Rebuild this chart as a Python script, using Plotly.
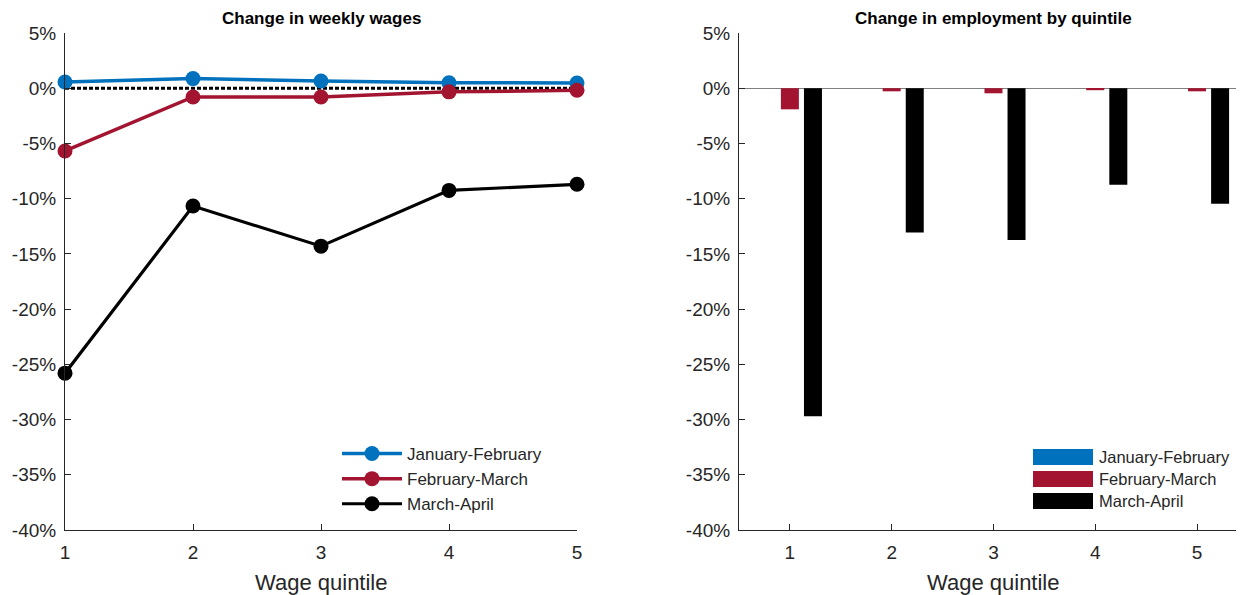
import plotly.graph_objects as go

quintile = [1, 2, 3, 4, 5]
series_names = ["January-February", "February-March", "March-April"]

wage_jan_feb = [0.57, 0.87, 0.66, 0.5, 0.47]
wage_feb_mar = [-5.68, -0.79, -0.79, -0.33, -0.19]
wage_mar_apr = [-25.8, -10.67, -14.3, -9.25, -8.7]
wage_zero = [0, 0, 0, 0, 0]

emp_jan_feb = [0, 0, 0, 0, 0]
emp_feb_mar = [-1.91, -0.28, -0.46, -0.18, -0.28]
emp_mar_apr = [-29.7, -13.07, -13.75, -8.73, -10.45]

y_ticks = [5, 0, -5, -10, -15, -20, -25, -30, -35, -40]
y_labels = ["5%", "0%", "-5%", "-10%", "-15%", "-20%", "-25%", "-30%", "-35%", "-40%"]

BLUE = "#0072BD"
RED = "#A2142F"
BLACK = "#000000"
COLORS = [BLUE, RED, BLACK]
AX = "#262626"
FONT = "Liberation Sans"
W, H = 1244, 595
OFF = 8  # page body margin


def px_x(p):
    return (p - OFF) / W


def px_y(p):
    return (H - (p - OFF)) / H


fig = go.Figure()

# left panel: wages
fig.add_trace(go.Scatter(x=quintile, y=wage_zero, mode="lines", showlegend=False,
                         line=dict(color=BLACK, width=3, dash="4px,2px"),
                         xaxis="x", yaxis="y", hoverinfo="skip"))
for name, vals, col in zip(series_names, [wage_jan_feb, wage_feb_mar, wage_mar_apr], COLORS):
    fig.add_trace(go.Scatter(x=quintile, y=vals, name=name, mode="lines+markers",
                             line=dict(color=col, width=3.5 if col != BLACK else 3.2),
                             marker=dict(color=col, size=15),
                             cliponaxis=False, xaxis="x", yaxis="y", legend="legend"))

# right panel: employment
for name, vals, col in zip(series_names, [emp_jan_feb, emp_feb_mar, emp_mar_apr], COLORS):
    fig.add_trace(go.Bar(x=quintile, y=vals, name=name, marker=dict(color=col, line_width=0),
                         xaxis="x2", yaxis="y2", showlegend=False))

axis_common = dict(showline=True, linecolor=AX, linewidth=1, ticks="inside", ticklen=6,
                   tickcolor=AX, showgrid=False, mirror=False, automargin=False,
                   tickfont=dict(family=FONT, size=19, color=AX))
x_extra = dict(ticklabelstandoff=5)
y_extra = dict(ticklabelstandoff=4)
y_dom = [px_y(530), px_y(33)]

fig.update_layout(
    width=W, height=H,
    margin=dict(l=0, r=0, t=0, b=0, pad=0),
    plot_bgcolor="white", paper_bgcolor="white",
    font=dict(family=FONT, color=AX),
    barmode="group", bargap=0.32, bargroupgap=0.22,
    xaxis=dict(domain=[px_x(65), px_x(577)], range=[1, 5], tickvals=quintile,
               anchor="y", zeroline=False, **axis_common, **x_extra),
    yaxis=dict(domain=y_dom, range=[-40, 5], tickvals=y_ticks, ticktext=y_labels,
               anchor="x", zeroline=False, **axis_common, **y_extra),
    xaxis2=dict(domain=[px_x(739), 1.0], range=[0.5, 5.54], tickvals=quintile,
                anchor="y2", zeroline=False, **axis_common, **x_extra),
    yaxis2=dict(domain=y_dom, range=[-40, 5], tickvals=y_ticks, ticktext=y_labels,
                anchor="x2", zeroline=True, zerolinecolor="#808080", zerolinewidth=1,
                **axis_common, **y_extra),
    legend=dict(x=px_x(337), y=px_y(436), xanchor="left", yanchor="top",
                bgcolor="rgba(0,0,0,0)", itemwidth=60, tracegroupgap=0,
                font=dict(family=FONT, size=17, color=AX)),
    showlegend=True,
)

titles = [("Change in weekly wages", 321), ("Change in employment by quintile", 993)]
for text, xc in titles:
    fig.add_annotation(text="<b>%s</b>" % text, x=px_x(xc), y=px_y(18),
                       xref="paper", yref="paper", showarrow=False,
                       xanchor="center", yanchor="middle",
                       font=dict(family=FONT, size=17, color=BLACK))

for xc in [321, 993]:
    fig.add_annotation(text="Wage quintile", x=px_x(xc), y=px_y(582),
                       xref="paper", yref="paper", showarrow=False,
                       xanchor="center", yanchor="middle",
                       font=dict(family=FONT, size=22, color=AX))

# legend for the bar panel (wide colour keys)
key_y = [457, 479, 501]
for name, col, yy in zip(series_names, COLORS, key_y):
    fig.add_shape(type="rect", xref="paper", yref="paper",
                  x0=px_x(1033), x1=px_x(1093),
                  y0=px_y(yy + 8), y1=px_y(yy - 8),
                  fillcolor=col, line_width=0)
    fig.add_annotation(text=name, x=px_x(1097), y=px_y(yy), xref="paper", yref="paper",
                       xanchor="left", yanchor="middle", showarrow=False,
                       font=dict(family=FONT, size=16.5, color=AX))

fig.write_html("out.html")
